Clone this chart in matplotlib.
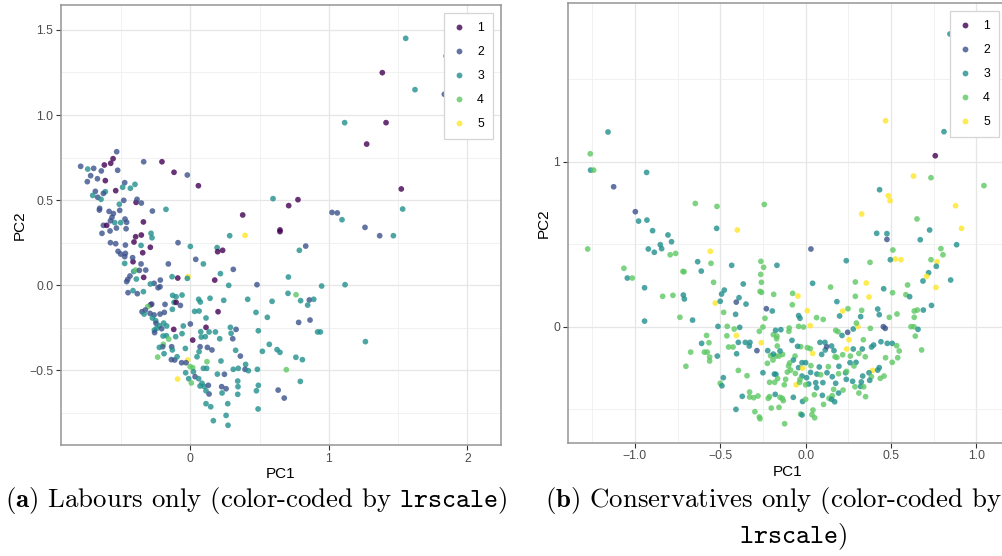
import matplotlib
matplotlib.use("Agg")
import matplotlib.pyplot as plt
from matplotlib.lines import Line2D

plt.rcParams['font.family'] = ['Liberation Sans', 'DejaVu Sans']
plt.rcParams['mathtext.fontset'] = 'cm'

# ---------------- data ----------------
levels = [1, 2, 3, 4, 5]
level_colors = ['#440154', '#3B528B', '#21908C', '#5DC863', '#FDE725']

# Panel (a): Labour only  (PC1, PC2, lrscale)
lab_pc1 = [1.555, 1.386, 1.622, 1.834, 1.846, 1.114, 1.413, 1.273, 1.523, 1.533,
           1.023, 1.061, 1.095, 1.261, 0.597, 0.710, 0.777, 0.378, 0.647, 0.058,
           -0.022, -0.118, -0.205, -0.337, -0.176, -0.274, -0.532, -0.558, -0.575, -0.621,
           -0.792, -0.741, -0.698, -0.720, -0.643, -0.525, -0.744, -0.671, -0.614, -0.539,
           -0.474, -0.489, -0.433, -0.400, -0.686, -0.705, -0.669, -0.645, -0.614, -0.628,
           -0.655, -0.657, -0.587, -0.556, -0.513, -0.510, -0.481, -0.392, -0.385, -0.354,
           -0.339, -0.472, -0.460, -0.503, -0.546, -0.566, -0.577, -0.628, -0.604, -0.534,
           -0.464,
           1.367, 1.466, 0.395, 0.647, 0.833, 0.787, 0.284, 0.000, -0.089, 0.193,
           0.197, 0.233, 0.039, 0.094, 0.310, 0.217, -0.159, 0.708, 1.117, 0.948,
           0.481, 0.277, 0.176, -0.017, -0.022, -0.091, -0.132, -0.217, -0.219, -0.262,
           -0.289, -0.233, -0.337, -0.390, -0.452, -0.436, -0.460, -0.409, -0.395, -0.368,
           -0.322, -0.356, -0.414, -0.417, -0.474, -0.474, -0.469, -0.503, -0.522, -0.539,
           -0.577, -0.469, -0.407, -0.356, -0.289, -0.344, -0.395, -0.354, -0.284, -0.277,
           -0.638, -0.580, -0.450, -0.414, -0.339, -0.383, -0.286, -0.279, -0.308, -0.325,
           -0.349, -0.334, -0.291, -0.262, -0.219, -0.183, -0.188, -0.130, -0.118, -0.103,
           -0.072, -0.128, -0.103, -0.060, 0.031, 0.063, 0.060, 0.072, 0.142, 0.241,
           0.200, 0.113, 0.000, -0.051, -0.274, -0.250, -0.248, -0.224, -0.193, -0.171,
           -0.243, -0.260, -0.258, -0.207, -0.120, -0.173, -0.197, -0.106, -0.060, -0.156,
           -0.195, -0.135, -0.200, -0.236, -0.224, -0.130, -0.190, -0.137, -0.113, -0.096,
           -0.036, 0.017, 0.070, 0.079, 0.108, 0.113, 0.135, 0.075, 0.181, 0.212,
           0.289, 0.330, 0.294, 0.306, 0.327, 0.361, 0.221, 0.156, 0.123, 0.120,
           0.063, 0.048, -0.019, -0.063, -0.031, -0.002, 0.017, -0.034, 0.022, 0.034,
           -0.012, -0.092, 0.007, 0.060, 0.084, 0.070, 0.099, 0.130, 0.094, 0.118,
           0.195, 0.246, 0.226, 0.258, 0.229, 0.135, 0.113, 0.113, 0.147, 0.270,
           0.258, 0.166, 0.272, 0.310, 0.346, 0.399, 0.395, 0.419, 0.484, 0.342,
           0.344, 0.342, 0.491, 0.477, 0.489, 0.474, 0.556, 0.491, 0.414, 0.590,
           0.570, 0.520, 0.626, 0.647, 0.634, 0.678, 0.693, 0.762, 0.809, 0.794,
           0.705, 0.763, 0.796, 0.859, 0.891, 0.847, 0.782, 0.864, 0.919, 0.939,
           1.264]
lab_pc2 = [1.451, 1.249, 1.149, 1.122, 1.347, 0.955, 0.955, 0.829, 0.565, 0.447,
           0.427, 0.424, 0.384, 0.339, 0.508, 0.467, 0.502, 0.412, 0.324, 0.584,
           0.647, 0.663, 0.725, 0.725, 0.445, 0.435, 0.784, 0.743, 0.716, 0.706,
           0.698, 0.682, 0.686, 0.643, 0.671, 0.675, 0.608, 0.625, 0.614, 0.555,
           0.602, 0.575, 0.569, 0.592, 0.551, 0.527, 0.516, 0.504, 0.549, 0.539,
           0.451, 0.441, 0.433, 0.420, 0.475, 0.439, 0.498, 0.486, 0.504, 0.482,
           0.371, 0.388, 0.369, 0.367, 0.367, 0.398, 0.378, 0.351, 0.351, 0.335,
           0.331,
           0.290, 0.290, 0.292, 0.314, 0.229, 0.204, 0.290, 0.227, 0.249, 0.220,
           0.196, 0.204, 0.151, 0.124, 0.092, 0.067, 0.124, 0.047, 0.002, -0.006,
           0.002, -0.002, 0.029, 0.049, 0.039, 0.041, 0.049, 0.029, -0.010, 0.010,
           0.006, -0.016, 0.045, 0.035, 0.033, 0.053, 0.020, 0.080, 0.088, 0.086,
           0.088, 0.124, 0.137, 0.161, 0.127, 0.167, 0.186, 0.182, 0.198, 0.243,
           0.249, 0.235, 0.253, 0.233, 0.222, 0.190, 0.284, 0.294, 0.304, 0.278,
           0.304, 0.318, -0.045, -0.033, -0.039, -0.051, -0.116, -0.112, -0.127, -0.147,
           -0.157, -0.171, -0.167, -0.176, -0.171, -0.114, -0.161, -0.143, -0.102, -0.102,
           -0.120, -0.061, -0.069, -0.059, -0.155, -0.153, -0.084, -0.100, -0.078, -0.090,
           -0.157, -0.194, -0.229, -0.241, -0.194, -0.210, -0.225, -0.239, -0.224, -0.241,
           -0.255, -0.265, -0.280, -0.257, -0.261, -0.298, -0.300, -0.304, -0.286, -0.318,
           -0.349, -0.363, -0.363, -0.424, -0.367, -0.382, -0.404, -0.439, -0.441, -0.422,
           -0.373, -0.324, -0.363, -0.306, -0.304, -0.249, -0.276, -0.275, -0.276, -0.316,
           -0.249, -0.261, -0.284, -0.316, -0.384, -0.418, -0.447, -0.382, -0.367, -0.451,
           -0.392, -0.422, -0.441, -0.457, -0.457, -0.480, -0.486, -0.516, -0.510, -0.539,
           -0.551, -0.553, -0.576, -0.551, -0.578, -0.594, -0.596, -0.590, -0.490, -0.490,
           -0.524, -0.525, -0.598, -0.610, -0.635, -0.641, -0.622, -0.698, -0.716, -0.698,
           -0.767, -0.798, -0.825, -0.496, -0.490, -0.467, -0.496, -0.504, -0.496, -0.565,
           -0.598, -0.643, -0.590, -0.622, -0.729, -0.161, -0.190, -0.269, -0.084, -0.096,
           -0.349, -0.390, -0.380, -0.396, -0.618, -0.665, -0.498, -0.425, -0.439, -0.567,
           -0.049, -0.057, -0.092, -0.088, -0.084, -0.118, -0.220, -0.206, -0.276, -0.276,
           -0.333]
lab_lr = [3, 1, 3, 2, 3, 3, 1, 1, 1, 3,
          2, 2, 3, 2, 3, 1, 1, 1, 1, 1,
          2, 1, 1, 2, 3, 2, 2, 1, 1, 1,
          2, 3, 2, 2, 2, 2, 2, 2, 1, 1,
          2, 3, 3, 3, 2, 3, 2, 3, 3, 2,
          2, 2, 2, 2, 3, 2, 2, 1, 2, 2,
          1, 2, 2, 3, 3, 2, 2, 2, 1, 2,
          2,
          2, 3, 5, 1, 2, 3, 3, 3, 2, 3,
          1, 1, 2, 3, 2, 3, 2, 3, 3, 3,
          2, 3, 1, 5, 3, 1, 3, 2, 2, 2,
          3, 2, 1, 3, 2, 2, 2, 3, 4, 2,
          2, 2, 1, 2, 3, 2, 2, 2, 2, 2,
          2, 2, 1, 3, 1, 1, 1, 1, 3, 3,
          2, 2, 2, 3, 3, 2, 1, 2, 4, 2,
          2, 3, 2, 2, 2, 2, 2, 3, 3, 1,
          2, 3, 3, 3, 3, 3, 3, 3, 3, 3,
          1, 3, 2, 3, 3, 3, 2, 3, 3, 3,
          3, 3, 2, 2, 1, 3, 3, 3, 3, 4,
          4, 2, 2, 4, 3, 3, 3, 2, 2, 3,
          3, 1, 2, 3, 3, 1, 3, 3, 3, 3,
          3, 2, 3, 2, 3, 2, 3, 2, 2, 4,
          3, 3, 5, 2, 2, 4, 4, 3, 3, 2,
          3, 5, 4, 3, 3, 3, 3, 2, 3, 3,
          3, 2, 2, 2, 3, 2, 3, 3, 3, 3,
          3, 3, 3, 3, 3, 3, 2, 3, 3, 3,
          3, 3, 3, 3, 3, 3, 3, 3, 3, 3,
          3, 3, 3, 3, 2, 2, 4, 3, 3, 3,
          3, 4, 3, 2, 3, 3, 2, 2, 3, 3,
          3]

# Panel (b): Conservatives only  (PC1, PC2, lrscale)
con_pc1 = [0.845, 0.468, 0.810, 0.759, 0.632, 0.734, 1.044, 0.433, 0.484, 0.494,
           0.878, 0.328, 0.652, 0.913, 0.726, -1.157, -1.261, -1.259, -1.241, -1.124,
           -0.931, -0.997, -0.978, -0.929, -0.896, -0.646, -0.519, -0.242, -0.521, -0.400,
           -1.276, -1.064, -1.044, -1.015,
           -0.921, -0.886, -0.851, -0.843, -0.806, -0.785, -0.793, -0.761, -0.943, -0.943,
           -0.837, -0.777, -0.718, -0.712, -0.716, -0.710, -0.736, -0.662, -0.673, -0.701,
           -0.632, -0.611, -0.558, -0.554, -0.539, -0.529, -0.500, -0.492, -0.476, -0.480,
           -0.513, -0.459, -0.433, -0.406, -0.390, -0.365, -0.349, -0.410, -0.386, -0.418,
           -0.580, -0.609, -0.566, -0.593, -0.576, -0.562, -0.562, -0.517, -0.461, -0.406,
           -0.451, -0.425, -0.394, -0.353, -0.326, -0.330, -0.404, -0.394, -0.343, -0.482,
           -0.500, -0.490, -0.371, -0.328, -0.328, -0.304, -0.279, -0.408, -0.297, -0.271,
           -0.267, -0.262, -0.246, -0.168, -0.263, -0.259, -0.258, -0.267, -0.230, -0.195,
           -0.187, -0.238, -0.250, -0.271, -0.260, -0.285, -0.222, -0.205, -0.224, -0.189,
           -0.176, -0.145, -0.168, -0.170, -0.166, -0.174, -0.156, -0.189, -0.135, -0.150,
           -0.191, -0.250, -0.183, -0.174, -0.211, -0.181, -0.164, -0.125, -0.117, -0.178,
           -0.150, -0.137, -0.131, -0.211, -0.219, -0.201, -0.156, -0.123, -0.072, -0.029,
           -0.021, -0.018, 0.000, 0.037, 0.053, 0.043, 0.105, 0.051, 0.098, 0.101,
           0.064, 0.059, 0.029, 0.066, 0.006, 0.018, 0.000, -0.021, -0.033, -0.055,
           -0.035, -0.088, -0.041, -0.018, -0.021, 0.000, -0.062, -0.072, -0.094, -0.100,
           -0.107, -0.060, 0.031, 0.080, 0.088, 0.133, 0.125, 0.156, 0.193, 0.176,
           0.164, 0.156, 0.137, 0.152, 0.170, 0.193, 0.219, 0.238, 0.234, 0.195,
           0.183, 0.217, 0.152, 0.166, 0.172, 0.094, 0.115, 0.123, 0.113, 0.084,
           0.041, 0.027, 0.010, -0.029, -0.047, -0.080, -0.098, -0.096, -0.041, -0.012,
           0.027, -0.041, -0.033, -0.076, -0.078, -0.045, 0.010, 0.031, 0.041, 0.064,
           0.103, 0.146, 0.183, 0.199, 0.238, 0.217, 0.248, 0.176, 0.189, 0.213,
           0.254, 0.246, 0.279, 0.306, 0.297, 0.322, 0.328, 0.291, 0.355, 0.371,
           0.291, 0.377, 0.457, 0.416, 0.476, 0.476, 0.509, 0.422, 0.431, 0.490,
           0.455, 0.466, 0.379, 0.338, 0.332, 0.279, 0.240, 0.262, 0.312, 0.349,
           0.295, 0.283, 0.260, 0.386, 0.398, 0.441, 0.478, 0.507, 0.533, 0.548,
           0.539, 0.468, 0.507, 0.431, 0.392, 0.371, 0.385, 0.459, 0.437, 0.375,
           0.334, 0.326, 0.322, 0.289, 0.340, 0.312, 0.351, 0.275, 0.240, 0.422,
           0.511, 0.525, 0.558, 0.496, 0.597, 0.587, 0.609, 0.671, 0.734, 0.770,
           0.765, 0.720, 0.708, 0.687, 0.792, 0.804, 0.884, 0.763, 0.849, 0.737,
           0.689, 0.654, 0.636, 0.636, 0.617, 0.634, 0.658, 0.642, 0.679, 0.535]
con_pc2 = [1.774, 1.248, 1.182, 1.036, 0.913, 0.903, 0.855, 0.830, 0.794, 0.764,
           0.733, 0.683, 0.653, 0.596, 0.586, 1.180, 1.048, 0.949, 0.949, 0.848,
           0.935, 0.697, 0.640, 0.646, 0.582, 0.747, 0.729, 0.741, 0.596, 0.586,
           0.471, 0.354, 0.295, 0.295,
           0.471, 0.451, 0.497, 0.473, 0.556, 0.515, 0.436, 0.444, 0.236, 0.034,
           0.184, 0.190, 0.335, 0.333, 0.192, 0.168, 0.057, 0.040, -0.154, -0.240,
           0.394, 0.337, 0.457, 0.384, 0.269, 0.143, 0.154, 0.198, 0.222, 0.087,
           0.002, 0.002, 0.372, 0.149, 0.176, 0.259, 0.137, 0.075, -0.004, -0.014,
           -0.053, -0.101, -0.097, -0.154, -0.154, -0.184, -0.208, -0.178, -0.055, -0.053,
           -0.123, -0.123, -0.095, -0.095, -0.095, -0.117, -0.164, -0.265, -0.297, -0.309,
           -0.343, -0.358, -0.422, -0.396, -0.426, -0.430, -0.420, -0.501, -0.515, -0.547,
           -0.558, 0.396, 0.360, 0.372, 0.317, 0.269, 0.208, 0.214, 0.109, 0.095,
           0.196, 0.051, -0.002, -0.028, -0.097, -0.145, -0.145, -0.176, -0.222, -0.048,
           -0.022, -0.018, -0.057, -0.073, -0.117, -0.178, -0.178, -0.166, -0.168, -0.147,
           -0.202, -0.279, -0.287, -0.289, -0.337, -0.337, -0.315, -0.352, -0.319, -0.410,
           -0.428, -0.434, -0.448, -0.424, -0.434, -0.493, -0.489, -0.588, -0.428, -0.529,
           -0.535, -0.453, -0.440, -0.533, -0.552, -0.505, -0.471, -0.412, -0.416, -0.339,
           -0.370, -0.339, -0.277, -0.287, -0.309, -0.347, -0.352, -0.299, -0.319, -0.352,
           -0.337, -0.263, -0.248, -0.251, -0.218, -0.218, -0.178, -0.202, -0.220, -0.238,
           -0.275, -0.283, -0.236, -0.244, -0.291, -0.242, -0.279, -0.303, -0.285, -0.343,
           -0.380, -0.418, -0.434, -0.440, -0.455, -0.402, -0.384, -0.319, -0.279, -0.240,
           -0.186, -0.170, -0.117, -0.145, -0.182, -0.168, -0.141, -0.121, -0.095, -0.095,
           -0.162, -0.133, -0.127, -0.121, -0.119, -0.083, -0.028, -0.008, 0.002, -0.002,
           0.006, 0.067, 0.051, 0.202, 0.133, 0.186, 0.097, 0.471, 0.263, 0.055,
           0.044, 0.240, 0.152, 0.065, 0.400, 0.095, 0.109, -0.022, -0.030, -0.053,
           -0.079, -0.034, -0.014, 0.002, 0.022, 0.061, 0.099, 0.271, 0.265, 0.180,
           0.184, 0.390, 0.230, 0.566, 0.564, 0.529, 0.206, 0.107, 0.073, 0.057,
           0.000, -0.010, -0.010, -0.079, -0.135, -0.135, -0.135, -0.178, -0.162, -0.182,
           -0.216, -0.238, -0.218, -0.123, -0.111, -0.091, -0.101, -0.101, -0.115, -0.147,
           -0.188, -0.188, -0.216, -0.248, -0.265, -0.279, -0.303, -0.299, -0.313, -0.325,
           -0.299, -0.335, -0.362, -0.364, -0.364, -0.402, -0.424, -0.331, -0.271, -0.263,
           0.465, 0.410, 0.406, 0.406, 0.253, 0.194, 0.182, 0.527, 0.406, 0.394,
           0.366, 0.327, 0.305, 0.277, 0.473, 0.436, 0.497, 0.238, 0.283, 0.129,
           0.101, 0.101, 0.095, 0.057, 0.000, 0.000, -0.016, -0.057, -0.141, 0.077]
con_lr = [3, 5, 3, 1, 5, 4, 4, 3, 5, 5,
          5, 5, 4, 5, 3, 3, 4, 3, 4, 2,
          3, 2, 3, 3, 3, 4, 4, 4, 3, 5,
          4, 4, 3, 4,
          3, 3, 3, 3, 3, 3, 4, 4, 3, 3,
          4, 4, 4, 4, 3, 3, 4, 3, 4, 4,
          3, 3, 5, 4, 4, 5, 3, 3, 3, 4,
          3, 4, 3, 2, 3, 3, 3, 3, 3, 4,
          4, 3, 4, 4, 4, 4, 4, 3, 4, 5,
          4, 4, 3, 3, 3, 3, 3, 4, 4, 3,
          4, 3, 3, 4, 4, 4, 4, 3, 4, 4,
          4, 4, 4, 3, 4, 4, 4, 4, 2, 3,
          4, 4, 4, 4, 5, 2, 3, 4, 4, 4,
          3, 3, 4, 4, 4, 4, 4, 3, 4, 3,
          4, 3, 3, 3, 4, 4, 4, 4, 4, 3,
          4, 4, 4, 4, 4, 4, 4, 4, 3, 4,
          3, 3, 4, 4, 4, 4, 4, 4, 3, 3,
          3, 3, 3, 3, 3, 3, 4, 3, 4, 5,
          4, 4, 3, 5, 3, 3, 4, 3, 4, 4,
          4, 4, 4, 3, 4, 4, 3, 3, 4, 3,
          4, 4, 4, 3, 3, 3, 4, 3, 3, 3,
          4, 4, 3, 3, 4, 3, 3, 2, 3, 3,
          5, 4, 4, 4, 3, 3, 4, 4, 4, 4,
          5, 3, 3, 4, 4, 5, 5, 2, 3, 4,
          4, 4, 3, 3, 3, 5, 4, 4, 4, 3,
          5, 2, 3, 5, 4, 3, 4, 4, 5, 5,
          4, 4, 3, 3, 3, 2, 4, 3, 3, 4,
          2, 2, 4, 4, 3, 3, 5, 4, 4, 4,
          3, 4, 3, 3, 3, 3, 3, 3, 4, 4,
          4, 4, 4, 3, 5, 3, 4, 4, 4, 3,
          3, 3, 3, 4, 4, 4, 4, 3, 4, 3,
          4, 5, 5, 3, 4, 4, 3, 3, 4, 5,
          3, 3, 5, 3, 4, 4, 3, 5, 3, 3,
          3, 4, 4, 4, 4, 4, 3, 4, 4, 4]

lab_xticks = [0, 1, 2]
lab_xticklabels = ['0', '1', '2']
lab_xminor = [-0.5, 0.5, 1.5]
lab_yticks = [-0.5, 0.0, 0.5, 1.0, 1.5]
lab_yticklabels = ['\u22120.5', '0.0', '0.5', '1.0', '1.5']
lab_yminor = [-0.75, -0.25, 0.25, 0.75, 1.25]

con_xticks = [-1.0, -0.5, 0.0, 0.5, 1.0]
con_xticklabels = ['\u22121.0', '\u22120.5', '0.0', '0.5', '1.0']
con_xminor = [-1.25, -0.75, -0.25, 0.25, 0.75]
con_yticks = [0, 1]
con_yticklabels = ['0', '1']
con_yminor = [-0.5, 0.5, 1.5]

caption_a = r"$\mathbf{(a)}$ Labours only (color-coded by $\mathtt{lrscale}$)"
caption_b1 = r"$\mathbf{(b)}$ Conservatives only (color-coded by"
caption_b2 = r"$\mathtt{lrscale}$)"

# ---------------- drawing ----------------
W, H = 1002, 556
fig = plt.figure(figsize=(W / 100, H / 100), dpi=100)

ALPHA = 0.8
PSIZE = 17
TICK_COLOR = '#4D4D4D'


def panel(rect, pc1, pc2, lr, xlim, ylim, xt, xtl, xmin, yt, ytl, ymin):
    ax = fig.add_axes(rect)
    cmap = dict(zip(levels, level_colors))
    cols = [cmap[v] for v in lr]
    ax.scatter(pc1, pc2, c=cols, s=PSIZE, alpha=ALPHA, linewidths=0, zorder=3)
    ax.set_xlim(*xlim)
    ax.set_ylim(*ylim)
    ax.set_xticks(xt)
    ax.set_xticklabels(xtl)
    ax.set_yticks(yt)
    ax.set_yticklabels(ytl)
    ax.set_xticks(xmin, minor=True)
    ax.set_yticks(ymin, minor=True)
    ax.tick_params(which='major', length=3.5, width=0.8, color='#333333',
                   labelsize=8.8, labelcolor=TICK_COLOR, pad=2)
    ax.tick_params(which='minor', length=0)
    ax.grid(which='major', color='#E6E6E6', lw=0.9, zorder=0)
    ax.grid(which='minor', color='#EFEFEF', lw=0.6, zorder=0)
    ax.set_axisbelow(True)
    for s in ax.spines.values():
        s.set_color('#959595')
        s.set_linewidth(1.1)
    ax.set_xlabel('PC1', fontsize=11, labelpad=2)
    ax.set_ylabel('PC2', fontsize=11, labelpad=1.5)
    handles = [Line2D([0], [0], marker='o', linestyle='', markersize=4.2,
                      markerfacecolor=c, markeredgewidth=0, alpha=ALPHA)
               for c in level_colors]
    leg = ax.legend(handles, [str(v) for v in levels], loc='upper right',
                    fontsize=8.8, frameon=True, fancybox=False,
                    borderpad=0.75, labelspacing=0.98, handlelength=1.0,
                    handletextpad=1.0, borderaxespad=0.65)
    leg.get_frame().set_edgecolor('#D5D5D5')
    leg.get_frame().set_linewidth(0.9)
    leg.get_frame().set_alpha(1)
    return ax


panel([61 / W, (H - 445) / H, 440 / W, 440 / H],
      lab_pc1, lab_pc2, lab_lr, (-0.934, 2.243), (-0.941, 1.647),
      lab_xticks, lab_xticklabels, lab_xminor,
      lab_yticks, lab_yticklabels, lab_yminor)

panel([567.7 / W, (H - 442.7) / H, (1007 - 567.7) / W, (442.7 - 3.3) / H],
      con_pc1, con_pc2, con_lr, (-1.393, 1.179), (-0.703, 1.96),
      con_xticks, con_xticklabels, con_xminor,
      con_yticks, con_yticklabels, con_yminor)

cap_kw = dict(fontsize=19.3, family='cmr10', color='black')
fig.text(5 / W, (H - 501) / H, caption_a, ha='left', va='center', **cap_kw)
fig.text(545 / W, (H - 501) / H, caption_b1, ha='left', va='center', **cap_kw)
fig.text(793 / W, (H - 537) / H, caption_b2, ha='center', va='center', **cap_kw)

fig.savefig('out.png', dpi=100)
